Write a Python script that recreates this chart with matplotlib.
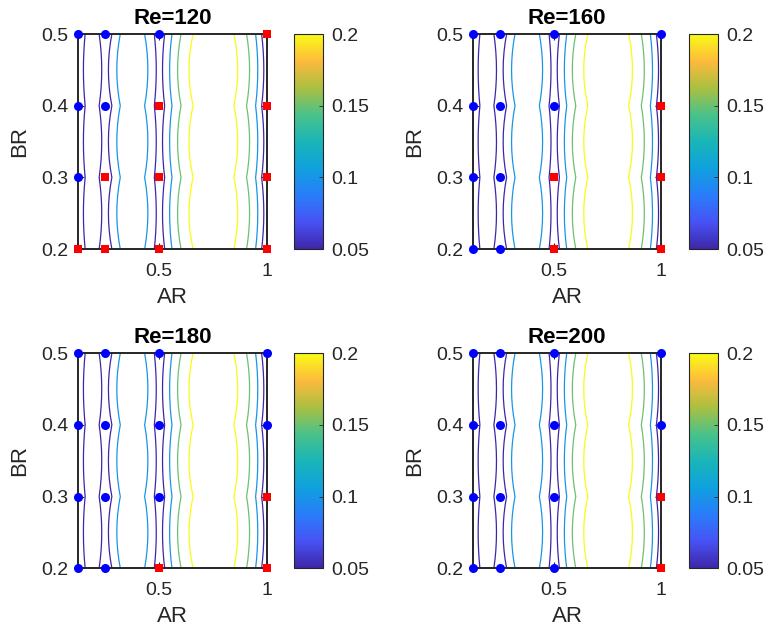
import numpy as np
import matplotlib
matplotlib.use("Agg")
import matplotlib.pyplot as plt
from matplotlib.colors import LinearSegmentedColormap, Normalize
from matplotlib.cm import ScalarMappable
from matplotlib.ticker import FuncFormatter

plt.rcParams["font.family"] = ["Liberation Sans", "DejaVu Sans"]

# sample grid
AR_SAMPLES = [0.125, 0.25, 0.5, 1.0]
BR_SAMPLES = [0.2, 0.3, 0.4, 0.5]
RE_CASES = [120, 160, 180, 200]

# 1 = red square, 0 = blue circle (rows: BR_SAMPLES, cols: AR_SAMPLES)
FLAGS = {
    120: [[1, 1, 1, 1], [0, 1, 1, 1], [0, 0, 1, 1], [0, 0, 0, 1]],
    160: [[0, 0, 1, 1], [0, 0, 1, 1], [0, 0, 0, 1], [0, 0, 0, 0]],
    180: [[0, 0, 1, 1], [0, 0, 0, 1], [0, 0, 0, 0], [0, 0, 0, 0]],
    200: [[0, 0, 0, 1], [0, 0, 0, 1], [0, 0, 0, 0], [0, 0, 0, 0]],
}

# contoured field: value at each station, and where that station sits along AR
# halfway between sample rows (AR_MID) and on the sample rows (AR_ROW)
Z_STATIONS = [0.030, 0.050, 0.070, 0.050, 0.035, 0.050, 0.100, 0.135, 0.100, 0.050, 0.035,
              0.050, 0.100, 0.150, 0.200, 0.235, 0.200, 0.150, 0.100, 0.050, 0.030]
AR_MID = [0.125, 0.150, 0.190, 0.235, 0.250, 0.266, 0.305, 0.375, 0.449, 0.488, 0.500,
          0.517, 0.550, 0.587, 0.640, 0.750, 0.866, 0.921, 0.959, 0.987, 1.000]
AR_ROW = [0.125, 0.158, 0.190, 0.223, 0.250, 0.282, 0.321, 0.375, 0.434, 0.479, 0.500,
          0.527, 0.561, 0.603, 0.659, 0.750, 0.848, 0.907, 0.949, 0.977, 1.000]
# weight of the mid-row positions, BR from 0.2 to 0.5 in steps of 0.0125
BLEND = [0, 0.44, 0.75, 0.94, 1, 0.94, 0.75, 0.44] * 3 + [0]
LEVELS = [0.05, 0.1, 0.15, 0.2]

PARULA = LinearSegmentedColormap.from_list("parula", [
    (0.000, (0.2422, 0.1504, 0.6603)),
    (0.125, (0.2810, 0.3228, 0.9579)),
    (0.250, (0.1600, 0.4900, 0.9800)),
    (0.375, (0.0600, 0.6300, 0.8700)),
    (0.500, (0.1000, 0.7100, 0.7200)),
    (0.625, (0.2900, 0.7600, 0.5400)),
    (0.750, (0.6700, 0.7500, 0.2500)),
    (0.875, (0.9900, 0.7300, 0.2400)),
    (1.000, (0.9769, 0.9839, 0.0805)),
])
DARK = (0.15, 0.15, 0.15)

w = np.array(BLEND)[:, None]
X = np.array(AR_ROW)[None, :] + (np.array(AR_MID) - np.array(AR_ROW))[None, :] * w
Y = np.repeat(np.linspace(0.2, 0.5, len(BLEND))[:, None], len(Z_STATIONS), axis=1)
Z = np.repeat(np.array(Z_STATIONS)[None, :], len(BLEND), axis=0)

fig = plt.figure(figsize=(7.65, 6.37), dpi=100)

ax_pos = [(0.102, 0.609), (0.618, 0.609), (0.102, 0.108), (0.618, 0.108)]
cb_x = [0.3843, 0.9007, 0.3843, 0.9007]

for i, re in enumerate(RE_CASES):
    x0, y0 = ax_pos[i]
    norm = Normalize(0.05, 0.2)  # one per panel so colorbars don't reset each other
    ax = fig.add_axes([x0, y0, 0.2465, 0.3375])
    ax.contour(X, Y, Z, levels=LEVELS, cmap=PARULA, norm=norm, linewidths=0.9)

    flags = np.array(FLAGS[re])
    A, B = np.meshgrid(AR_SAMPLES, BR_SAMPLES)
    ax.plot(A[flags == 0], B[flags == 0], "o", color="#0000ff", ms=6.5, mew=0,
            clip_on=False, zorder=3)
    ax.plot(A[flags == 1], B[flags == 1], "s", color="#ff0000", ms=5.5, mew=0,
            clip_on=False, zorder=3)

    ax.set_xlim(0.125, 1)
    ax.set_ylim(0.2, 0.5)
    ax.set_xticks([0.5, 1])
    ax.set_xticklabels(["0.5", "1"])
    ax.set_yticks(BR_SAMPLES)
    ax.set_yticklabels(["0.2", "0.3", "0.4", "0.5"])
    ax.tick_params(direction="in", length=4, width=0.8, labelsize=14, colors=DARK,
                   top=True, right=True)
    ax.tick_params(axis="x", pad=10)
    ax.tick_params(axis="y", pad=7)
    for sp in ax.spines.values():
        sp.set_color(DARK)
        sp.set_linewidth(1.4)
    ax.set_xlabel("AR", fontsize=16, color=DARK, labelpad=5)
    ax.set_ylabel("BR", fontsize=16, color=DARK, labelpad=8)
    ax.set_title(f"Re={re}", fontsize=16, fontweight="bold", pad=7)

    cax = fig.add_axes([cb_x[i], y0, 0.0379, 0.3375])
    cb = fig.colorbar(ScalarMappable(norm=norm, cmap=PARULA), cax=cax)
    cb.set_ticks(LEVELS)
    cb.ax.yaxis.set_major_formatter(FuncFormatter(lambda v, _: f"{v:g}"))
    cb.ax.tick_params(direction="in", length=3, width=0.6, labelsize=14,
                      colors=DARK, pad=6)
    cb.outline.set_edgecolor(DARK)
    cb.outline.set_linewidth(0.8)

fig.savefig("out.png", dpi=100)
